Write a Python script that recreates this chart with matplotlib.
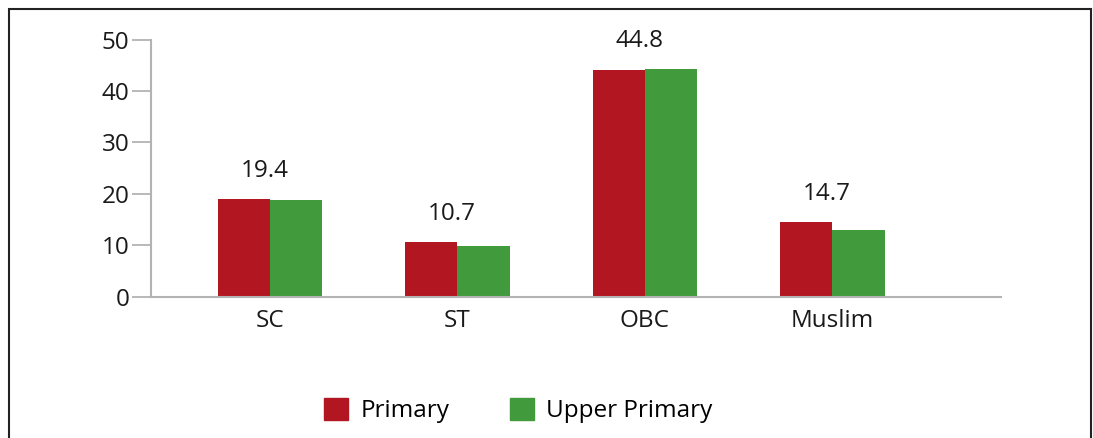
import matplotlib
matplotlib.use('Agg')

import matplotlib.pyplot as plt
import matplotlib.patches as mpatches
import numpy as np

plt.rcParams['font.family'] = ['Open Sans', 'DejaVu Sans']

categories    = ['SC', 'ST', 'OBC', 'Muslim']
primary       = [19.1, 10.6, 44.1, 14.5]
upper_primary = [18.8,  9.9, 44.3, 13.0]
top_labels    = ['19.4', '10.7', '44.8', '14.7']
yticks        = [0, 10, 20, 30, 40, 50]

RED   = '#B21620'
GREEN = '#419A3C'
GREY  = '#b3b3b3'
TXT   = '#1a1a1a'
FS    = 17.5


# ------------------------------------------------------------------------------
#
def main():

    fig = plt.figure(figsize=(10.93, 4.38), dpi=100)
    ax  = fig.add_axes([0.1379, 0.3226, 0.7776, 0.5868])

    x = np.arange(len(categories))
    w = 0.279

    ax.bar(x - w / 2, primary,       w, color=RED,   label='Primary')
    ax.bar(x + w / 2, upper_primary, w, color=GREEN, label='Upper Primary')

    for i, lab in enumerate(top_labels):
        top = max(primary[i], upper_primary[i])
        ax.annotate(lab, xy=(x[i] - 0.03, top), xytext=(0, 11.5),
                    textcoords='offset points', ha='center', va='bottom',
                    fontsize=FS, color=TXT)

    ax.set_xlim(-0.636, 3.897)
    ax.set_ylim(0, 50)
    ax.set_yticks(yticks)
    ax.set_xticks(x)
    ax.set_xticklabels(categories)

    for side in ['top', 'right']:
        ax.spines[side].set_visible(False)
    for side in ['left', 'bottom']:
        ax.spines[side].set_color(GREY)
        ax.spines[side].set_linewidth(1.5)

    ax.tick_params(axis='y', length=13.5, width=1.3, color=GREY,
                   labelsize=FS, labelcolor=TXT, pad=2)
    ax.tick_params(axis='x', length=0, labelsize=FS, labelcolor=TXT, pad=9)

    handles = [mpatches.Patch(color=RED,   label='Primary'),
               mpatches.Patch(color=GREEN, label='Upper Primary')]
    fig.legend(handles=handles, loc='center', bbox_to_anchor=(0.474, 0.062),
               ncol=2, frameon=False, fontsize=FS, handlelength=1.0,
               handleheight=1.0, handletextpad=0.5, columnspacing=2.5)

    # outer frame (open at the bottom)
    frame = mpatches.Rectangle((8.5 / 1093, -0.05), 1082 / 1093,
                               1.05 - 9 / 438, transform=fig.transFigure,
                               fill=False, edgecolor='#222222', linewidth=1.5,
                               clip_on=False)
    fig.patches.append(frame)

    fig.savefig('out.png', dpi=100)


# ------------------------------------------------------------------------------
#
if __name__ == '__main__':

    main()
